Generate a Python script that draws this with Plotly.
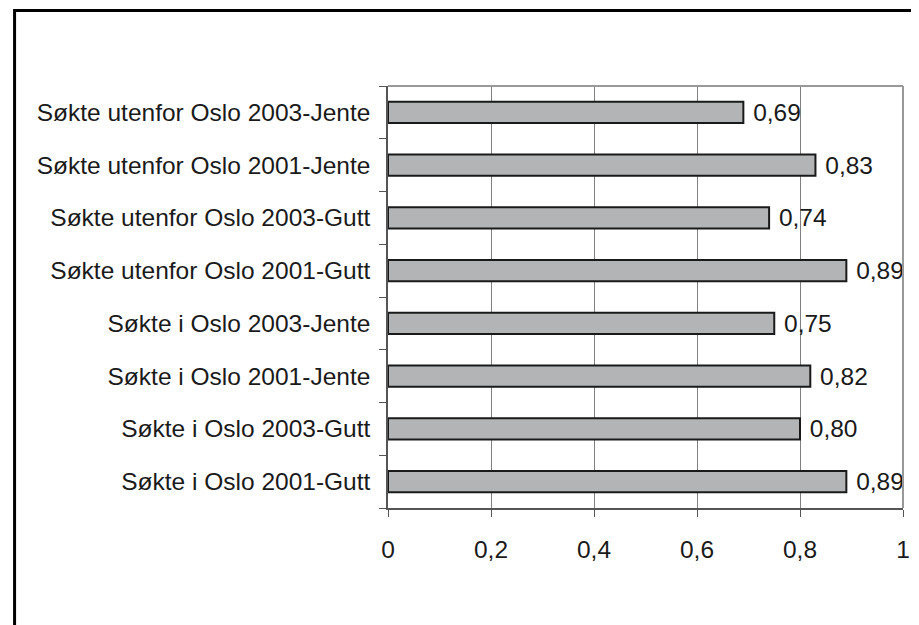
import plotly.graph_objects as go

categories = [
    "Søkte i Oslo 2001-Gutt",
    "Søkte i Oslo 2003-Gutt",
    "Søkte i Oslo 2001-Jente",
    "Søkte i Oslo 2003-Jente",
    "Søkte utenfor Oslo 2001-Gutt",
    "Søkte utenfor Oslo 2003-Gutt",
    "Søkte utenfor Oslo 2001-Jente",
    "Søkte utenfor Oslo 2003-Jente",
]
values = [0.89, 0.80, 0.82, 0.75, 0.89, 0.74, 0.83, 0.69]
x_ticks = [0, 0.2, 0.4, 0.6, 0.8, 1]

FONT = "Liberation Sans, Arial, sans-serif"
TXT = "#1a1a1a"
FS = 24.5

# page body has an 8px margin; figure coordinates are page coordinates - 8
W, H = 911, 617
L, T, R, B = 380, 78, 902, 500  # plot area in figure pixels
PW, PH = R - L, B - T

fig = go.Figure(
    go.Bar(
        x=values,
        y=categories,
        orientation="h",
        marker=dict(color="#b3b4b6", line=dict(color="#1a1a1a", width=2)),
        texttemplate=" %{x:.2f}",
        textposition="outside",
        textfont=dict(size=FS, color=TXT, family=FONT),
        constraintext="none",
        cliponaxis=False,
    )
)

fig.update_layout(
    width=W,
    height=H,
    margin=dict(l=L, r=W - R, t=T, b=H - B, pad=0),
    paper_bgcolor="white",
    plot_bgcolor="white",
    separators=",.",
    bargap=0.6,
    showlegend=False,
    font=dict(family=FONT, size=FS, color=TXT),
    xaxis=dict(
        range=[0, 1],
        tickvals=x_ticks,
        showgrid=True,
        gridcolor="#808080",
        gridwidth=1,
        zeroline=False,
        showline=True,
        linecolor="#555555",
        linewidth=1.5,
        mirror=False,
        ticks="outside",
        ticklen=7,
        tickcolor="#555555",
        tickfont=dict(size=FS, color=TXT),
        ticklabelstandoff=12,
    ),
    yaxis=dict(
        type="category",
        categoryorder="array",
        categoryarray=categories,
        showgrid=False,
        showline=True,
        linecolor="#555555",
        linewidth=1.5,
        ticks="outside",
        tickson="boundaries",
        ticklen=7,
        tickcolor="#555555",
        tickfont=dict(size=FS, color=TXT),
        ticklabelstandoff=11,
    ),
    shapes=[
        # plot-area top and right borders
        dict(type="line", xref="paper", yref="paper", x0=0, x1=1, y0=1, y1=1,
             line=dict(color="#999999", width=2)),
        dict(type="line", xref="paper", yref="paper", x0=1, x1=1, y0=0, y1=1,
             line=dict(color="#999999", width=2)),
        # outer frame (cut off at right and bottom)
        dict(type="rect", xref="paper", yref="paper",
             x0=(1.5 - L) / PW, x1=(W + 20 - L) / PW,
             y0=(B - (H + 20)) / PH, y1=(B - 2.5) / PH,
             line=dict(color="black", width=3), layer="above"),
    ],
)

fig.write_html("out.html")
